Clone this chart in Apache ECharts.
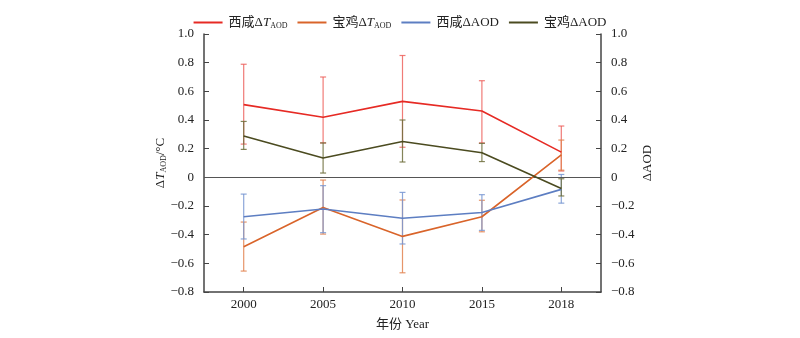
<!DOCTYPE html>
<html><head><meta charset="utf-8">
<script src="https://cdn.jsdelivr.net/npm/echarts@6/dist/echarts.min.js"></script>
<style>html,body{margin:0;padding:0;background:#fff}#c{width:800px;height:338px}</style>
</head><body><div id="c"></div>
<script>
const years = ['2000','2005','2010','2015','2018'];
const xianT = [0.507, 0.419, 0.53, 0.463, 0.176];
const xianTLow = [0.232, 0.24, 0.21, 0.24, 0.044];
const xianTHigh = [0.789, 0.70, 0.85, 0.674, 0.358];
const baojiT = [-0.484, -0.21, -0.412, -0.275, 0.156];
const baojiTLow = [-0.654, -0.396, -0.666, -0.38, 0.05];
const baojiTHigh = [-0.312, -0.019, -0.158, -0.16, 0.26];
const xianAOD = [-0.275, -0.221, -0.286, -0.245, -0.084];
const xianAODLow = [-0.43, -0.386, -0.465, -0.37, -0.18];
const xianAODHigh = [-0.117, -0.058, -0.105, -0.121, 0.02];
const baojiAOD = [0.288, 0.135, 0.25, 0.172, -0.078];
const baojiAODLow = [0.195, 0.03, 0.107, 0.11, -0.13];
const baojiAODHigh = [0.39, 0.24, 0.40, 0.237, -0.01];
const yTicks = [1.0, 0.8, 0.6, 0.4, 0.2, 0, -0.2, -0.4, -0.6, -0.8];

const FONT = '"Liberation Serif","Noto Sans CJK SC",serif';
const colors = {xt:'#e62a24', bt:'#d9642a', xa:'#5d7ec2', ba:'#4b4b20'};
const errColors = {xt:'rgba(236,90,85,0.8)', bt:'rgba(226,130,80,0.85)', xa:'rgba(120,150,210,0.85)', ba:'rgba(110,110,60,0.85)'};

function errData(lo, hi){ return lo.map((v,i)=>[i, v, hi[i]]); }
function errSeries(name, lo, hi, col, yi, z){
  return {
    type:'custom', name: name+'_err', yAxisIndex: yi, z: z,
    renderItem: function(params, api){
      const a = api.coord([api.value(0), api.value(1)]);
      const b = api.coord([api.value(0), api.value(2)]);
      const w = 3;
      const st = {stroke: col, lineWidth: 1.2};
      return {type:'group', children:[
        {type:'line', shape:{x1:a[0],y1:a[1],x2:b[0],y2:b[1]}, style:st},
        {type:'line', shape:{x1:a[0]-w,y1:a[1],x2:a[0]+w,y2:a[1]}, style:st},
        {type:'line', shape:{x1:b[0]-w,y1:b[1],x2:b[0]+w,y2:b[1]}, style:st}
      ]};
    },
    encode:{x:0, y:[1,2]},
    data: errData(lo, hi), silent:true
  };
}
function lineSeries(name, vals, col, yi){
  return {type:'line', name:name, data:vals, yAxisIndex: yi, symbol:'none', z:5,
    lineStyle:{color:col, width:1.6}, itemStyle:{color:col}};
}
const fmt = v => Math.abs(v) < 1e-9 ? '0' : v.toFixed(1).replace('-', '\u2212');
const yAxisCommon = {
  type:'value', min:-0.8, max:1.0, interval:0.2,
  axisLine:{show:true, onZero:false, lineStyle:{color:'#444', width:1.5}},
  axisTick:{show:true, inside:true, length:5, lineStyle:{color:'#444'}},
  splitLine:{show:false},
  axisLabel:{color:'#222', fontFamily:FONT, fontSize:13, formatter:fmt, margin:10},
  nameLocation:'middle', nameRotate:90, nameMoveOverlap:false,
  nameTextStyle:{color:'#222', fontFamily:FONT, fontSize:13,
    rich:{i:{fontStyle:'italic', fontFamily:FONT, fontSize:13, color:'#222'}, s:{fontSize:8, fontFamily:FONT, color:'#222', padding:[6,0,0,0]}}}
};
const chart = echarts.init(document.getElementById('c'), null, {renderer:'canvas'});
chart.setOption({
  animation:false,
  backgroundColor:'#fff',
  textStyle:{fontFamily:FONT},
  grid:{left:204, right:199, top:34, bottom:46, containLabel:false},
  legend:{
    top:11, left:'center', icon:'rect', itemWidth:29, itemHeight:2, itemGap:10,
    data:['西咸ΔT','宝鸡ΔT','西咸ΔAOD','宝鸡ΔAOD'],
    formatter: function(n){
      if(n==='西咸ΔT') return '西咸Δ{i|T}{s|AOD}';
      if(n==='宝鸡ΔT') return '宝鸡Δ{i|T}{s|AOD}';
      return n;
    },
    textStyle:{color:'#222', fontFamily:FONT, fontSize:13, padding:[0,0,0,1],
      rich:{i:{fontStyle:'italic', fontFamily:FONT, fontSize:13, color:'#222'}, s:{fontSize:8, fontFamily:FONT, color:'#222', padding:[6,0,0,0]}}}
  },
  xAxis:{
    type:'category', data:years, boundaryGap:true,
    axisLine:{show:true, onZero:false, lineStyle:{color:'#444', width:1.5}},
    axisTick:{show:true, inside:true, alignWithLabel:true, length:5, lineStyle:{color:'#444'}},
    axisLabel:{color:'#222', fontFamily:FONT, fontSize:13, margin:6},
    name:'年份 Year', nameLocation:'middle', nameGap:26, nameMoveOverlap:false,
    nameTextStyle:{color:'#222', fontFamily:FONT, fontSize:13}
  },
  yAxis:[
    Object.assign({}, yAxisCommon, {position:'left', name:'Δ{i|T}{s|AOD}/°C', nameGap:36}),
    Object.assign({}, yAxisCommon, {position:'right', name:'ΔAOD', nameGap:40})
  ],
  series:[
    errSeries('西咸ΔT', xianTLow, xianTHigh, errColors.xt, 0, 1),
    errSeries('宝鸡ΔT', baojiTLow, baojiTHigh, errColors.bt, 0, 2),
    errSeries('西咸ΔAOD', xianAODLow, xianAODHigh, errColors.xa, 1, 3),
    errSeries('宝鸡ΔAOD', baojiAODLow, baojiAODHigh, errColors.ba, 1, 4),
    Object.assign(lineSeries('西咸ΔT', xianT, colors.xt, 0), {
      markLine:{silent:true, symbol:'none', label:{show:false},
        lineStyle:{color:'#555', width:1.2, type:'solid'}, data:[{yAxis:0}]}}),
    lineSeries('宝鸡ΔT', baojiT, colors.bt, 0),
    lineSeries('西咸ΔAOD', xianAOD, colors.xa, 1),
    lineSeries('宝鸡ΔAOD', baojiAOD, colors.ba, 1)
  ]
});
</script></body></html>
